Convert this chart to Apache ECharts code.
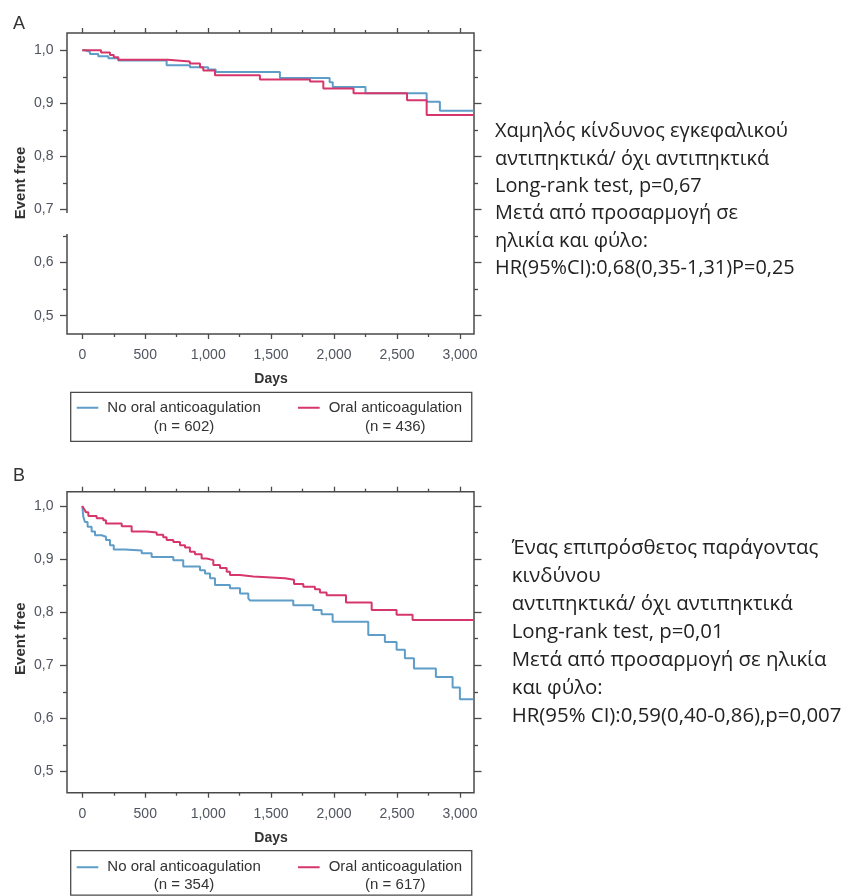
<!DOCTYPE html>
<html><head><meta charset="utf-8">
<script src="https://cdn.jsdelivr.net/npm/echarts@6/dist/echarts.min.js"></script>
<style>html,body{margin:0;padding:0;background:#fff}#c{width:841px;height:896px}</style>
</head><body><div id="c"></div>
<script>
// ---------- DATA ----------
// Panel A (low stroke risk)
const aNoOacDays = [0, 21, 61, 127, 207, 286, 670, 855, 1000, 1060, 1570, 1965, 1990, 2250, 2736, 2841, 3110];
const aNoOacSurv = [1.0, 0.997, 0.993, 0.989, 0.985, 0.981, 0.972, 0.968, 0.964, 0.959, 0.948, 0.940, 0.931, 0.919, 0.903, 0.886, 0.886];
const aOacDays = [0, 149, 220, 250, 286, 680, 855, 935, 961, 1054, 1411, 1809, 1915, 2155, 2580, 2736, 3110];
const aOacSurv = [1.0, 0.996, 0.991, 0.987, 0.982, 0.979, 0.975, 0.968, 0.962, 0.953, 0.945, 0.941, 0.928, 0.919, 0.906, 0.878, 0.878];
// Panel B (one additional risk factor)
const bNoOacDays = [0, 8, 21, 42, 74, 101, 154, 188, 220, 250, 339, 472, 551, 723, 802, 935, 975, 1015, 1054, 1173, 1253, 1319, 1332, 1676, 1835, 1901, 1989, 2272, 2404, 2497, 2563, 2635, 2809, 2942, 3000, 3106];
const bNoOacSurv = [1.0, 0.980, 0.970, 0.961, 0.952, 0.945, 0.942, 0.936, 0.926, 0.918, 0.916, 0.911, 0.904, 0.898, 0.886, 0.879, 0.873, 0.864, 0.851, 0.845, 0.835, 0.826, 0.822, 0.813, 0.804, 0.796, 0.782, 0.757, 0.744, 0.729, 0.713, 0.694, 0.678, 0.658, 0.636, 0.636];
const bOacDays = [0, 15, 30, 48, 114, 167, 188, 313, 392, 512, 591, 643, 670, 723, 776, 816, 855, 895, 948, 988, 1041, 1094, 1147, 1173, 1253, 1358, 1610, 1682, 1756, 1848, 1888, 1941, 2095, 2299, 2497, 2624, 3110];
const bOacSurv = [1.0, 0.994, 0.988, 0.981, 0.977, 0.973, 0.967, 0.962, 0.952, 0.950, 0.946, 0.941, 0.936, 0.932, 0.926, 0.922, 0.914, 0.909, 0.901, 0.898, 0.889, 0.883, 0.876, 0.870, 0.867, 0.864, 0.861, 0.853, 0.848, 0.843, 0.837, 0.832, 0.818, 0.804, 0.795, 0.785, 0.785];

const seriesNames = ['No oral anticoagulation', 'Oral anticoagulation'];
const nA = [602, 436];
const nB = [354, 617];
const xTicks = [0, 500, 1000, 1500, 2000, 2500, 3000];
const yTicks = [0.5, 0.6, 0.7, 0.8, 0.9, 1.0];
const panelLetters = ['A', 'B'];
const noteA = ['Χαμηλός κίνδυνος εγκεφαλικού', 'αντιπηκτικά/ όχι αντιπηκτικά', 'Long-rank test, p=0,67', 'Μετά από προσαρμογή σε', 'ηλικία και φύλο:', 'HR(95%CI):0,68(0,35-1,31)P=0,25'];
const noteB = ['Ένας επιπρόσθετος παράγοντας', 'κινδύνου', 'αντιπηκτικά/ όχι αντιπηκτικά', 'Long-rank test, p=0,01', 'Μετά από προσαρμογή σε ηλικία', 'και φύλο:', 'HR(95% CI):0,59(0,40-0,86),p=0,007'];

// ---------- STYLE / LAYOUT ----------
const BLUE = '#5f9dc9', RED = '#d6366a';
const AXIS = '#4a4a4a', LABEL = '#50545f';
const FONT = '"Liberation Sans", Arial, sans-serif';
const GREEK = '"Open Sans", "Noto Sans", sans-serif';

const panels = [
  { gridTop: 50.3, boxTop: 33 },
  { gridTop: 506, boxTop: 491.7 }
];
const GL = 82.3, GW = 377.6, GH = 265.4, BL = 67, BW = 407, BH = 301;
const X0 = xTicks[0], X1 = xTicks[xTicks.length - 1];
const Y0 = yTicks[0], Y1 = yTicks[yTicks.length - 1];

const zip = (d, s) => d.map((x, i) => [x, s[i]]);
const fmtX = v => String(v).replace(/\B(?=(\d{3})+(?!\d))/g, ',');
const fmtY = v => v.toFixed(1).replace('.', ',');

const grids = [], xAxes = [], yAxes = [];
panels.forEach(p => {
  grids.push({ left: GL, top: p.gridTop, width: GW, height: GH, show: false, outerBoundsMode: 'none', containLabel: false });
});
panels.forEach(p => {
  grids.push({ left: BL, top: p.boxTop, width: BW, height: BH, show: true, borderColor: AXIS, borderWidth: 1.5, backgroundColor: 'transparent', outerBoundsMode: 'none', containLabel: false });
});

const tickLine = { color: AXIS, width: 1.3 };
panels.forEach((p, i) => {
  const gridBottom = p.gridTop + GH, boxBottom = p.boxTop + BH;
  const base = {
    gridIndex: i, type: 'value', min: X0, max: X1, interval: xTicks[1] - xTicks[0],
    axisLine: { show: false, onZero: false }, splitLine: { show: false }, minorSplitLine: { show: false }
  };
  xAxes.push(Object.assign({}, base, {
    position: 'bottom', offset: boxBottom - gridBottom,
    axisTick: { show: true, length: 5, lineStyle: tickLine },
    minorTick: { show: true, splitNumber: 2, length: 3, lineStyle: tickLine },
    axisLabel: { formatter: fmtX, margin: 14, color: LABEL, fontSize: 14, fontFamily: FONT },
    name: 'Days', nameLocation: 'middle', nameGap: 38,
    nameTextStyle: { fontWeight: 'bold', fontSize: 14, color: '#333', fontFamily: FONT }
  }));
  xAxes.push(Object.assign({}, base, {
    position: 'top', offset: p.gridTop - p.boxTop,
    axisTick: { show: true, length: 5, lineStyle: tickLine },
    minorTick: { show: true, splitNumber: 2, length: 3, lineStyle: tickLine },
    axisLabel: { show: false }
  }));
  const ybase = {
    gridIndex: i, type: 'value', min: Y0, max: Y1, interval: 0.1,
    axisLine: { show: false, onZero: false }, splitLine: { show: false }, minorSplitLine: { show: false }
  };
  yAxes.push(Object.assign({}, ybase, {
    position: 'left', offset: GL - BL,
    axisTick: { show: true, length: 7, lineStyle: tickLine },
    minorTick: { show: true, splitNumber: 2, length: 4, lineStyle: tickLine },
    axisLabel: { formatter: fmtY, margin: 13.5, color: LABEL, fontSize: 14, fontFamily: FONT },
    name: 'Event free', nameLocation: 'middle', nameGap: 38.5,
    nameTextStyle: { fontWeight: 'bold', fontSize: 15, color: '#333', fontFamily: FONT }
  }));
  yAxes.push(Object.assign({}, ybase, {
    position: 'right', offset: (BL + BW) - (GL + GW),
    axisTick: { show: true, length: 7.5, lineStyle: tickLine },
    minorTick: { show: true, splitNumber: 2, length: 4, lineStyle: tickLine },
    axisLabel: { show: false }
  }));
});
// data axes spanning the full framed box (same scale as the tick axes)
panels.forEach((p, i) => {
  const xpp = (X1 - X0) / GW, ypp = (Y1 - Y0) / GH;
  xAxes.push({ gridIndex: 2 + i, type: 'value', show: false,
    min: X0 - (GL - BL) * xpp, max: X1 + ((BL + BW) - (GL + GW)) * xpp,
    axisLine: { onZero: false }, splitLine: { show: false } });
  yAxes.push({ gridIndex: 2 + i, type: 'value', show: false,
    min: Y0 - ((p.boxTop + BH) - (p.gridTop + GH)) * ypp, max: Y1 + (p.gridTop - p.boxTop) * ypp,
    axisLine: { onZero: false }, splitLine: { show: false } });
});

function km(name, color, days, surv, panel) {
  return {
    type: 'line', name: name, xAxisIndex: 4 + panel, yAxisIndex: 4 + panel,
    data: zip(days, surv), step: 'end', symbol: 'none', showSymbol: false, clip: false,
    lineStyle: { color: color, width: 2 }, itemStyle: { color: color }, color: color,
    emphasis: { disabled: true }, silent: true, z: 3
  };
}
const series = [
  km(seriesNames[0], BLUE, aNoOacDays, aNoOacSurv, 0),
  km(seriesNames[1], RED, aOacDays, aOacSurv, 0),
  km(seriesNames[0], BLUE, bNoOacDays, bNoOacSurv, 1),
  km(seriesNames[1], RED, bOacDays, bOacSurv, 1)
];

function legend(top, lh, counts, padTop, padBottom) {
  const h = lh * 2;
  const c = lh / 2;
  const icon = 'path://M0,' + (c - 1) + 'H21.6V' + (c + 1) + 'H0Z M0,0h0.01v0.01h-0.01Z M25.59,' + (h - 0.01) + 'h0.01v0.01h-0.01Z';
  const ts = { fontSize: 15, fontFamily: FONT, color: '#333', lineHeight: lh };
  return {
    left: 70.7, top: top, orient: 'horizontal', padding: [padTop, 9.7, padBottom, 6],
    itemGap: 37.3, itemWidth: 25.6, itemHeight: h, icon: icon, selectedMode: false,
    borderColor: AXIS, borderWidth: 1.3, itemStyle: { borderWidth: 0 },
    data: seriesNames.slice(),
    formatter: name => '{a|' + name + '}\n{b|(n = ' + counts[seriesNames.indexOf(name)] + ')}',
    textStyle: Object.assign({}, ts, {
      rich: { a: Object.assign({}, ts), b: Object.assign({ align: 'center' }, ts) }
    })
  };
}

const graphic = [
  { type: 'text', left: 13, top: 15, style: { text: panelLetters[0], fontSize: 18, fontFamily: FONT, fill: '#333' } },
  { type: 'text', left: 13, top: 467, style: { text: panelLetters[1], fontSize: 18, fontFamily: FONT, fill: '#333' } },
  { type: 'text', left: 495, top: 118, style: { text: noteA.join('\n'), fontSize: 19.9, fontFamily: GREEK, lineHeight: 27.3, fill: '#222' } },
  { type: 'text', left: 511.7, top: 534, style: { text: noteB.join('\n'), fontSize: 20.4, fontFamily: GREEK, lineHeight: 28, fill: '#222' } },
  { type: 'rect', z: 100, shape: { x: 64.5, y: 213, width: 5, height: 21 }, style: { fill: '#fff' } }
];

const chart = echarts.init(document.getElementById('c'), null, { renderer: 'canvas', width: 841, height: 896 });
chart.setOption({
  animation: false,
  backgroundColor: '#fff',
  grid: grids,
  xAxis: xAxes,
  yAxis: yAxes,
  legend: [legend(392.3, 19, nA, 6, 5), legend(850.7, 18, nB, 7.5, 1)],
  series: series,
  graphic: graphic
});
</script></body></html>
